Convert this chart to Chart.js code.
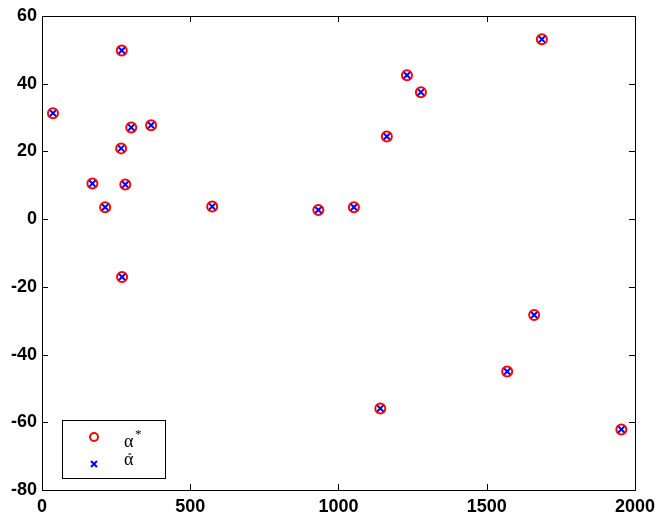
<!DOCTYPE html>
<html>
<head>
<meta charset="utf-8">
<script src="https://cdn.jsdelivr.net/npm/chart.js@4"></script>
<style>
  html, body { margin: 0; padding: 0; background: #fff; }
  #wrap { width: 661px; height: 517px; }
</style>
</head>
<body>
<div id="wrap"><canvas id="myChart" width="661" height="517"></canvas></div>
<script>
// values
const xVals = [37, 170, 213, 269, 267, 281, 301, 368, 270, 574, 932, 1052, 1163, 1231, 1278, 1686, 1141, 1569, 1660, 1954];
const alphaStar = [31.3, 10.5, 3.5, 49.8, 20.9, 10.2, 27.1, 27.7, -17.1, 3.7, 2.7, 3.5, 24.4, 42.5, 37.5, 53.1, -55.9, -45.0, -28.3, -62.1];
const alphaHat = [31.3, 10.5, 3.5, 49.8, 20.9, 10.2, 27.1, 27.7, -17.1, 3.7, 2.7, 3.5, 24.4, 42.5, 37.5, 53.1, -55.9, -45.0, -28.3, -62.1];
const xTicks = [0, 500, 1000, 1500, 2000];
const yTicks = [-80, -60, -40, -20, 0, 20, 40, 60];

const tickFont = { family: "'Liberation Sans', Arial, sans-serif", size: 18, weight: "bold" };

// box round the plot, inward ticks on all four sides, legend in the corner
const frame = {
  id: "frame",
  afterDraw(chart) {
    const { ctx, chartArea: a, scales } = chart;
    ctx.save();
    ctx.strokeStyle = "#000";
    ctx.lineWidth = 1;
    ctx.strokeRect(Math.round(a.left) + 0.5, Math.round(a.top) + 0.5, Math.round(a.right - a.left), Math.round(a.bottom - a.top));
    ctx.beginPath();
    xTicks.forEach((v) => {
      let px = Math.round(scales.x.getPixelForValue(v)) + 0.5;
      ctx.moveTo(px, a.bottom); ctx.lineTo(px, a.bottom - 6);
      ctx.moveTo(px, a.top); ctx.lineTo(px, a.top + 6);
    });
    yTicks.forEach((v) => {
      let py = Math.round(scales.y.getPixelForValue(v)) + 0.5;
      ctx.moveTo(a.left, py); ctx.lineTo(a.left + 6, py);
      ctx.moveTo(a.right, py); ctx.lineTo(a.right - 6, py);
    });
    ctx.stroke();

    // legend
    const lx = 62, ly = 420, lw = 103, lh = 58;
    ctx.fillStyle = "#fff";
    ctx.fillRect(lx, ly, lw, lh);
    ctx.strokeRect(lx + 0.5, ly + 0.5, lw, lh);
    ctx.strokeStyle = "#ff0000";
    ctx.lineWidth = 2;
    ctx.beginPath();
    ctx.arc(94, 437, 4, 0, Math.PI * 2);
    ctx.stroke();
    ctx.strokeStyle = "#0000ff";
    ctx.beginPath();
    ctx.moveTo(91, 461); ctx.lineTo(97, 467);
    ctx.moveTo(97, 461); ctx.lineTo(91, 467);
    ctx.stroke();
    ctx.fillStyle = "#000";
    ctx.textBaseline = "alphabetic";
    ctx.textAlign = "left";
    ctx.font = "18px 'Liberation Serif', serif";
    ctx.fillText("α", 124, 447);
    ctx.fillText("α", 124, 465);
    ctx.font = "13px 'Liberation Serif', serif";
    ctx.fillText("*", 135, 438);
    ctx.font = "11px 'DejaVu Sans', sans-serif";
    ctx.fillText("ˆ", 127, 462);
    ctx.restore();
  },
};

const ctx = document.getElementById("myChart").getContext("2d");
const myChart = new Chart(ctx, {
  type: "scatter",
  data: {
    datasets: [
      {
        label: "α*",
        data: xVals.map((x, i) => ({ x: x, y: alphaStar[i] })),
        pointStyle: "circle",
        pointRadius: 5,
        pointBorderWidth: 2,
        pointBorderColor: "#ff0000",
        pointBackgroundColor: "rgba(0,0,0,0)",
      },
      {
        label: "α̂",
        data: xVals.map((x, i) => ({ x: x, y: alphaHat[i] })),
        pointStyle: "crossRot",
        pointRadius: 5,
        pointBorderWidth: 2,
        pointBorderColor: "#0000ff",
        pointBackgroundColor: "#0000ff",
      },
    ],
  },
  options: {
    responsive: false,
    animation: false,
    events: [],
    layout: { padding: { left: 0, top: 16, right: 26, bottom: 0 } },
    plugins: { legend: { display: false }, tooltip: { enabled: false } },
    scales: {
      x: {
        type: "linear",
        min: 0,
        max: 2000,
        afterFit: (s) => { s.height = 27; },
        afterBuildTicks: (s) => { s.ticks = xTicks.map((v) => ({ value: v })); },
        grid: { display: false, drawTicks: false },
        border: { display: false },
        ticks: { color: "#000", font: tickFont, padding: 6, maxRotation: 0, callback: (v) => String(v) },
      },
      y: {
        type: "linear",
        min: -80,
        max: 60,
        afterFit: (s) => { s.width = 42; },
        afterBuildTicks: (s) => { s.ticks = yTicks.map((v) => ({ value: v })); },
        grid: { display: false, drawTicks: false },
        border: { display: false },
        ticks: { color: "#000", font: tickFont, padding: 5, callback: (v) => String(v) },
      },
    },
  },
  plugins: [frame],
});
</script>
</body>
</html>
